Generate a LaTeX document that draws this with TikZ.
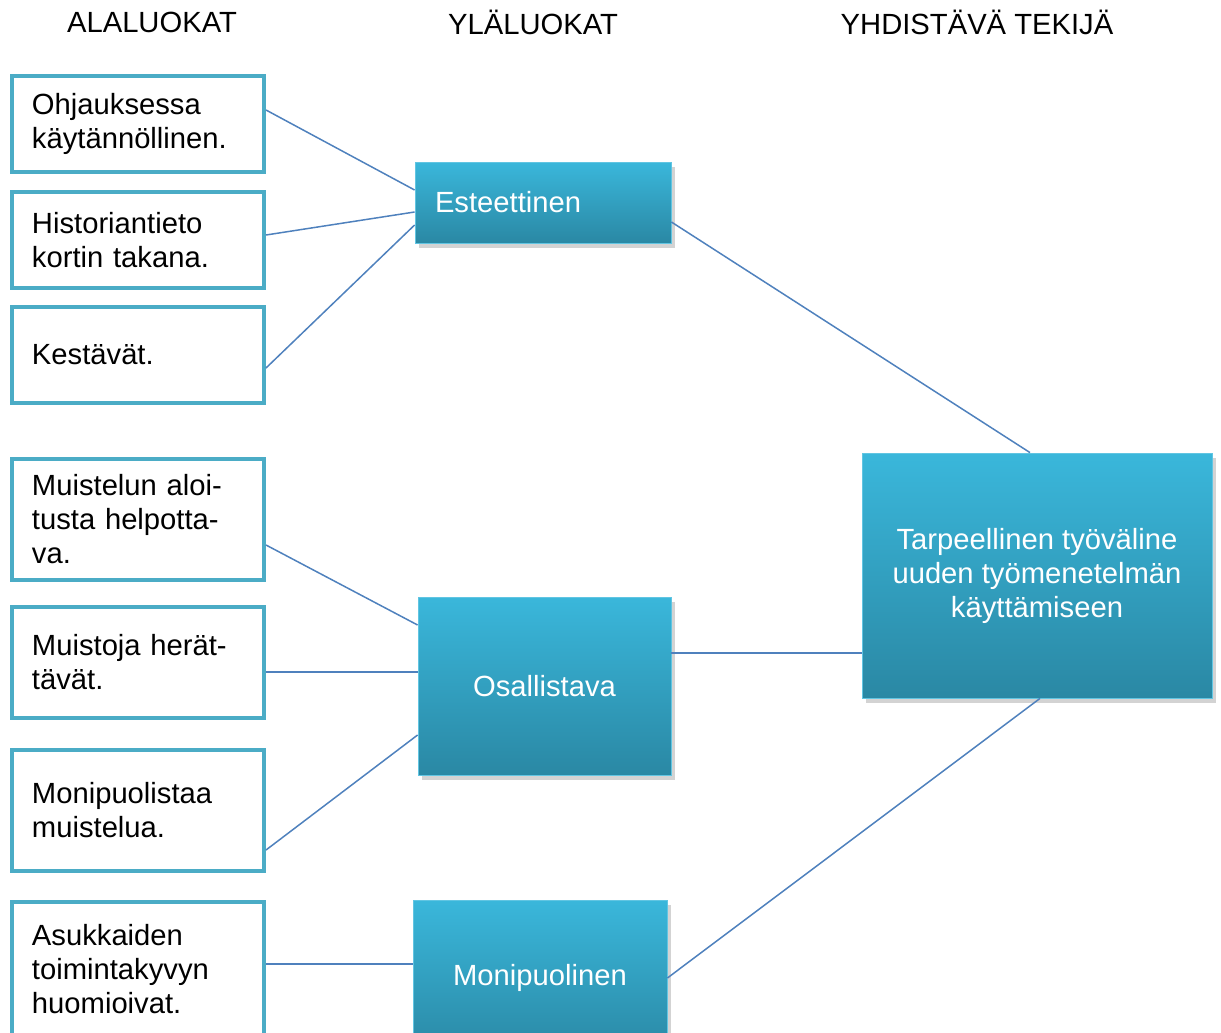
\documentclass[tikz,border=0pt]{standalone}
\usepackage{fontspec}
\setmainfont{Liberation Sans}
\usepackage{xcolor}
\usepackage{tikz}
\usetikzlibrary{positioning,shadows,calc}
\definecolor{subframe}{HTML}{4BACC6}
\definecolor{linkblue}{HTML}{4F81BD}
\definecolor{boxtop}{HTML}{3AB7DB}
\definecolor{boxbottom}{HTML}{2A88A4}
\newcommand{\labelfont}{\fontsize{14.6pt}{17pt}\selectfont}

\begin{document}
\begin{tikzpicture}
  [x=0.5pt,y=-0.5pt,
  header/.style={font=\labelfont,inner sep=0pt},
  subbox/.style={rectangle,draw=subframe,line width=2pt,fill=white,minimum width=126pt,
    inner xsep=10pt,text width=106pt,align=left,font=\labelfont},
  mainbox/.style={rectangle,top color=boxtop,bottom color=boxbottom,draw=boxtop!80!white,
    line width=0.4pt,text=white,font=\labelfont,
    drop shadow={opacity=0.35,shadow xshift=2pt,shadow yshift=-2.5pt}},
  link/.style={draw=linkblue,line width=0.75pt}
  ]
  \useasboundingbox (0,0) rectangle (1221,1033);
  % otsikot
  \node[header] (h1) at (152,22) {ALALUOKAT};
  \node[header] (h2) at (533,22) {YLÄLUOKAT};
  \node[header] (h3) at (977,22) {YHDISTÄVÄ TEKIJÄ};
  % alaluokat
  \node[subbox,minimum height=48pt] (s1) at (138,124) {Ohjauksessa\\käytännöllinen.};
  \node[subbox,minimum height=48pt] (s2) at (138,240) {Historiantieto\\kortin takana.};
  \node[subbox,minimum height=48pt] (s3) at (138,355) {Kestävät.};
  \node[subbox,minimum height=60.5pt] (s4) at (138,519.5) {Muistelun aloi-\\tusta helpotta-\\va.};
  \node[subbox,minimum height=55.5pt] (s5) at (138,662.5) {Muistoja herät-\\tävät.};
  \node[subbox,minimum height=60.5pt] (s6) at (138,810.5) {Monipuolistaa\\muistelua.};
  \node[subbox,minimum height=67pt] (s7) at (138,969) {Asukkaiden\\toimintakyvyn\\huomioivat.};
  % yläluokat
  \node[mainbox,minimum width=128pt,minimum height=40.5pt,text width=108pt,
    inner xsep=10pt,align=left] (est) at (543,202.5) {Esteettinen};
  \node[mainbox,minimum width=126.5pt,minimum height=89pt] (osa) at (544.5,686) {Osallistava};
  \node[mainbox,minimum width=127pt,minimum height=78pt] (mon) at (540,978) {Monipuolinen};
  % yhdistävä tekijä
  \node[mainbox,minimum width=175pt,minimum height=122.5pt,align=center] (tar) at (1037,575.5)
    {Tarpeellinen työväline\\uuden työmenetelmän\\käyttämiseen};
  % yhteydet
  \draw[link] ([yshift=7pt]s1.east) -- ([yshift=6.25pt]est.west);
  \draw[link] ([yshift=2.5pt]s2.east) -- ([yshift=-4.75pt]est.west);
  \draw[link] ([yshift=-6.5pt]s3.east) -- ([yshift=-11.25pt]est.west);
  \draw[link] ([yshift=-12.75pt]s4.east) -- ([yshift=30.5pt]osa.west);
  \draw[link] ([yshift=-4.75pt]s5.east) -- ([yshift=-4.75pt]s5.east -| osa.west);
  \draw[link] ([yshift=-19.75pt]s6.east) -- ([yshift=-24.5pt]osa.west);
  \draw[link] ([yshift=2.5pt]s7.east) -- ([yshift=2.5pt]s7.east -| mon.west);
  \draw[link] ([yshift=-9.75pt]est.east) -- ([xshift=-3.5pt]tar.north);
  \draw[link] ([yshift=16.5pt]osa.east) -- ([yshift=16.5pt]osa.east -| tar.west);
  \draw[link] (mon.east) -- ([xshift=1.5pt]tar.south);
\end{tikzpicture}
\end{document}
